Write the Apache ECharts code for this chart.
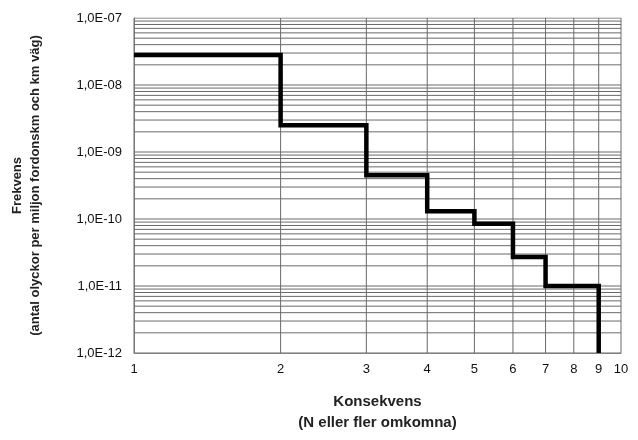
<!DOCTYPE html>
<html>
<head>
<meta charset="utf-8">
<script src="https://cdn.jsdelivr.net/npm/echarts@6/dist/echarts.min.js"></script>
<style>html,body{margin:0;background:#fff}#c{width:638px;height:440px}</style>
</head>
<body>
<div id="c"></div>
<script>
// step edges (N) and frequency level for each step
const stepFrom = [1, 2, 3, 4, 5, 6, 7]
const stepTo = [2, 3, 4, 5, 6, 7, 9]
const freq = [2.8e-8, 2.5e-9, 4.5e-10, 1.3e-10, 8.5e-11, 2.7e-11, 1.0e-11]
const xTicks = [1, 2, 3, 4, 5, 6, 7, 8, 9, 10]
const yDecades = [-12, -11, -10, -9, -8, -7]

let points = []
stepFrom.forEach((x0, i) => {
    points.push([x0, freq[i]])
    points.push([stepTo[i], freq[i]])
})
points.push([9, 1e-12])

let yGrid = []
yDecades.forEach((d) => {
    yGrid.push(Math.pow(10, d))
    if (d < -7) {
        for (let m = 2; m <= 9; m++) yGrid.push(m * Math.pow(10, d))
    }
})

const gridStyle = { color: '#6a6a6a', width: 1 }
let series = yGrid.map((y) => ({
    type: 'line', silent: true, symbol: 'none', z: 1,
    data: [[1, y], [10, y]],
    lineStyle: gridStyle,
}))
xTicks.forEach((x) => series.push({
    type: 'line', silent: true, symbol: 'none', z: 1,
    data: [[x, 1e-12], [x, 1e-7]],
    lineStyle: gridStyle,
}))
series.push({
    type: 'line',
    data: points,
    symbol: 'none',
    lineStyle: { color: '#000', width: 4.5, join: 'miter' },
    z: 5,
})

const font = 'Liberation Sans'
const chart = echarts.init(document.getElementById('c'))
chart.setOption({
    animation: false,
    grid: { left: 131, right: 17, top: 18, bottom: 87 },
    xAxis: {
        type: 'log', min: 1, max: 10,
        name: 'Konsekvens\n(N eller fler omkomna)',
        nameLocation: 'middle', nameGap: 38,
        nameTextStyle: { fontFamily: font, fontWeight: 'bold', fontSize: 15, color: '#222', lineHeight: 21 },
        axisLine: { lineStyle: { color: '#888' } },
        axisTick: { show: false },
        splitLine: { show: false },
        axisLabel: {
            customValues: xTicks, fontFamily: font, fontSize: 13, color: '#111', margin: 10,
            formatter: (v) => String(Math.round(v)),
        },
    },
    yAxis: {
        type: 'log', min: 1e-12, max: 1e-7,
        name: 'Frekvens\n(antal olyckor per miljon fordonskm och km väg)',
        nameLocation: 'middle', nameGap: 90, nameRotate: 90,
        nameTextStyle: { fontFamily: font, fontWeight: 'bold', fontSize: 13, color: '#222', lineHeight: 18 },
        axisLine: { show: true, lineStyle: { color: '#888' } },
        axisTick: { show: false },
        splitLine: { show: false },
        axisLabel: {
            fontFamily: font, fontSize: 13, color: '#111', margin: 12,
            formatter: (v) => {
                const e = Math.round(Math.log10(v))
                return '1,0E-' + String(-e).padStart(2, '0')
            },
        },
    },
    series: series,
})
</script>
</body>
</html>
